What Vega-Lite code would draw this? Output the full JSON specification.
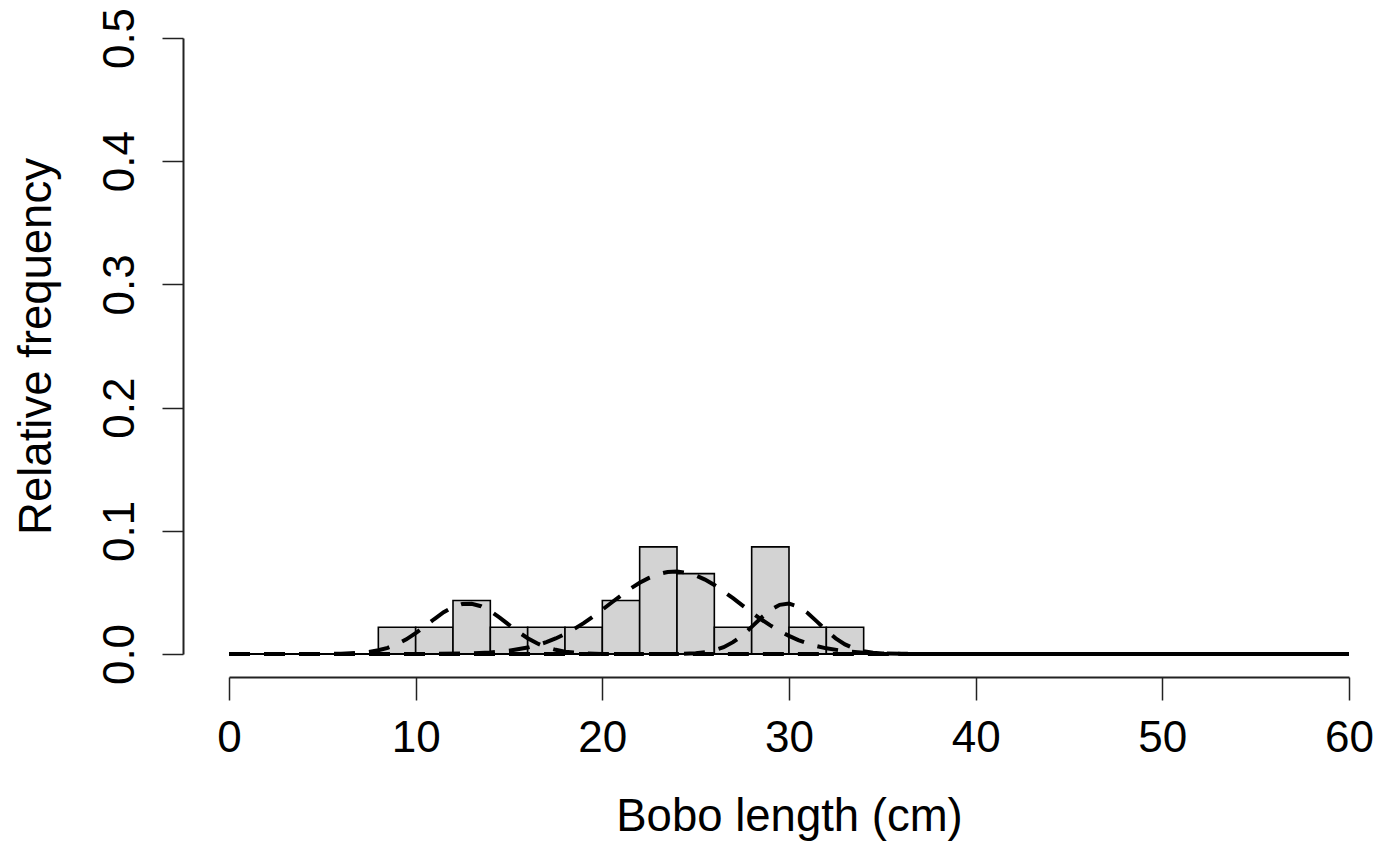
{
  "$schema": "https://vega.github.io/schema/vega-lite/v6.json",
  "width": 1120,
  "height": 616,
  "autosize": {"type": "none"},
  "padding": {"left": 229, "top": 38, "right": 30, "bottom": 192},
  "background": "white",
  "config": {
    "view": {"stroke": null},
    "font": "Liberation Sans",
    "axis": {"labelFont": "Liberation Sans", "titleFont": "Liberation Sans", "labelColor": "#000", "titleColor": "#000", "titleFontWeight": "normal", "grid": false}
  },
  "datasets": {
    "bars": [
      {"length": 8, "end": 10, "freq": 0.02174},
      {"length": 10, "end": 12, "freq": 0.02174},
      {"length": 12, "end": 14, "freq": 0.04348},
      {"length": 14, "end": 16, "freq": 0.02174},
      {"length": 16, "end": 18, "freq": 0.02174},
      {"length": 18, "end": 20, "freq": 0.02174},
      {"length": 20, "end": 22, "freq": 0.04348},
      {"length": 22, "end": 24, "freq": 0.08696},
      {"length": 24, "end": 26, "freq": 0.06522},
      {"length": 26, "end": 28, "freq": 0.02174},
      {"length": 28, "end": 30, "freq": 0.08696},
      {"length": 30, "end": 32, "freq": 0.02174},
      {"length": 32, "end": 34, "freq": 0.02174}
    ],
    "base": [
      {"length": 0, "freq": 0},
      {"length": 60, "freq": 0}
    ],
    "curves": [
      {"comp": "A", "length": 0, "freq": 0}, {"comp": "A", "length": 5, "freq": 0}, {"comp": "A", "length": 6, "freq": 0.0002}, {"comp": "A", "length": 7, "freq": 0.0009}, {"comp": "A", "length": 7.5, "freq": 0.0017}, {"comp": "A", "length": 8, "freq": 0.003}, {"comp": "A", "length": 8.5, "freq": 0.005}, {"comp": "A", "length": 9, "freq": 0.008}, {"comp": "A", "length": 9.5, "freq": 0.0119}, {"comp": "A", "length": 10, "freq": 0.0169}, {"comp": "A", "length": 10.5, "freq": 0.0225}, {"comp": "A", "length": 11, "freq": 0.0284}, {"comp": "A", "length": 11.5, "freq": 0.0339}, {"comp": "A", "length": 12, "freq": 0.0381}, {"comp": "A", "length": 12.5, "freq": 0.0406}, {"comp": "A", "length": 13, "freq": 0.0408}, {"comp": "A", "length": 13.5, "freq": 0.0388}, {"comp": "A", "length": 14, "freq": 0.0348}, {"comp": "A", "length": 14.5, "freq": 0.0295}, {"comp": "A", "length": 15, "freq": 0.0237}, {"comp": "A", "length": 15.5, "freq": 0.0179}, {"comp": "A", "length": 16, "freq": 0.0128}, {"comp": "A", "length": 16.5, "freq": 0.0087}, {"comp": "A", "length": 17, "freq": 0.0055}, {"comp": "A", "length": 17.5, "freq": 0.0034}, {"comp": "A", "length": 18, "freq": 0.0019}, {"comp": "A", "length": 19, "freq": 0.0005}, {"comp": "A", "length": 20, "freq": 0.0001}, {"comp": "A", "length": 21, "freq": 0}, {"comp": "A", "length": 25, "freq": 0}, {"comp": "A", "length": 30, "freq": 0}, {"comp": "A", "length": 35, "freq": 0}, {"comp": "A", "length": 40, "freq": 0}, {"comp": "A", "length": 45, "freq": 0}, {"comp": "A", "length": 50, "freq": 0}, {"comp": "A", "length": 55, "freq": 0}, {"comp": "A", "length": 60, "freq": 0},
      {"comp": "B", "length": 0, "freq": 0}, {"comp": "B", "length": 5, "freq": 0}, {"comp": "B", "length": 10, "freq": 0}, {"comp": "B", "length": 13, "freq": 0.0005}, {"comp": "B", "length": 14, "freq": 0.0012}, {"comp": "B", "length": 15, "freq": 0.0026}, {"comp": "B", "length": 16, "freq": 0.0052}, {"comp": "B", "length": 16.5, "freq": 0.0072}, {"comp": "B", "length": 17, "freq": 0.0096}, {"comp": "B", "length": 17.5, "freq": 0.0126}, {"comp": "B", "length": 18, "freq": 0.0162}, {"comp": "B", "length": 18.5, "freq": 0.0204}, {"comp": "B", "length": 19, "freq": 0.0251}, {"comp": "B", "length": 19.5, "freq": 0.0304}, {"comp": "B", "length": 20, "freq": 0.036}, {"comp": "B", "length": 20.5, "freq": 0.0418}, {"comp": "B", "length": 21, "freq": 0.0475}, {"comp": "B", "length": 21.5, "freq": 0.053}, {"comp": "B", "length": 22, "freq": 0.0578}, {"comp": "B", "length": 22.5, "freq": 0.0618}, {"comp": "B", "length": 23, "freq": 0.0648}, {"comp": "B", "length": 23.5, "freq": 0.0666}, {"comp": "B", "length": 24, "freq": 0.067}, {"comp": "B", "length": 24.5, "freq": 0.066}, {"comp": "B", "length": 25, "freq": 0.0638}, {"comp": "B", "length": 25.5, "freq": 0.0604}, {"comp": "B", "length": 26, "freq": 0.056}, {"comp": "B", "length": 26.5, "freq": 0.0508}, {"comp": "B", "length": 27, "freq": 0.0453}, {"comp": "B", "length": 27.5, "freq": 0.0395}, {"comp": "B", "length": 28, "freq": 0.0337}, {"comp": "B", "length": 28.5, "freq": 0.0282}, {"comp": "B", "length": 29, "freq": 0.0232}, {"comp": "B", "length": 29.5, "freq": 0.0186}, {"comp": "B", "length": 30, "freq": 0.0147}, {"comp": "B", "length": 30.5, "freq": 0.0113}, {"comp": "B", "length": 31, "freq": 0.0086}, {"comp": "B", "length": 31.5, "freq": 0.0063}, {"comp": "B", "length": 32, "freq": 0.0046}, {"comp": "B", "length": 33, "freq": 0.0023}, {"comp": "B", "length": 34, "freq": 0.001}, {"comp": "B", "length": 35, "freq": 0.0004}, {"comp": "B", "length": 36, "freq": 0.0002}, {"comp": "B", "length": 37, "freq": 0}, {"comp": "B", "length": 40, "freq": 0}, {"comp": "B", "length": 45, "freq": 0}, {"comp": "B", "length": 50, "freq": 0}, {"comp": "B", "length": 55, "freq": 0}, {"comp": "B", "length": 60, "freq": 0},
      {"comp": "C", "length": 0, "freq": 0}, {"comp": "C", "length": 5, "freq": 0}, {"comp": "C", "length": 10, "freq": 0}, {"comp": "C", "length": 15, "freq": 0}, {"comp": "C", "length": 20, "freq": 0}, {"comp": "C", "length": 24, "freq": 0}, {"comp": "C", "length": 25, "freq": 0.0006}, {"comp": "C", "length": 25.5, "freq": 0.0014}, {"comp": "C", "length": 26, "freq": 0.003}, {"comp": "C", "length": 26.5, "freq": 0.0055}, {"comp": "C", "length": 27, "freq": 0.0096}, {"comp": "C", "length": 27.5, "freq": 0.0151}, {"comp": "C", "length": 28, "freq": 0.022}, {"comp": "C", "length": 28.5, "freq": 0.0292}, {"comp": "C", "length": 29, "freq": 0.0356}, {"comp": "C", "length": 29.5, "freq": 0.0399}, {"comp": "C", "length": 30, "freq": 0.0409}, {"comp": "C", "length": 30.5, "freq": 0.0385}, {"comp": "C", "length": 31, "freq": 0.0333}, {"comp": "C", "length": 31.5, "freq": 0.0263}, {"comp": "C", "length": 32, "freq": 0.0191}, {"comp": "C", "length": 32.5, "freq": 0.0127}, {"comp": "C", "length": 33, "freq": 0.0078}, {"comp": "C", "length": 33.5, "freq": 0.0044}, {"comp": "C", "length": 34, "freq": 0.0022}, {"comp": "C", "length": 34.5, "freq": 0.0011}, {"comp": "C", "length": 35, "freq": 0.0005}, {"comp": "C", "length": 36, "freq": 0.0001}, {"comp": "C", "length": 37, "freq": 0}, {"comp": "C", "length": 40, "freq": 0}, {"comp": "C", "length": 45, "freq": 0}, {"comp": "C", "length": 50, "freq": 0}, {"comp": "C", "length": 55, "freq": 0}, {"comp": "C", "length": 60, "freq": 0}
    ]
  },
  "encoding": {
    "x": {
      "field": "length", "type": "quantitative",
      "scale": {"domain": [0, 60], "nice": false, "zero": false},
      "axis": {
        "values": [0, 10, 20, 30, 40, 50, 60], "format": "d",
        "offset": 23, "tickSize": 23, "tickColor": "#222", "tickWidth": 1.5,
        "domainColor": "#222", "domainWidth": 2,
        "labelFontSize": 44, "labelBaseline": "alphabetic", "labelPadding": 51,
        "labelFlush": false, "labelOverlap": false,
        "title": "Bobo length (cm)", "titleFontSize": 45.5,
        "titleBaseline": "alphabetic", "titleY": 153, "titleX": 560, "titleAnchor": "middle"
      }
    },
    "y": {
      "field": "freq", "type": "quantitative",
      "scale": {"domain": [0, 0.5], "nice": false},
      "axis": {
        "values": [0, 0.1, 0.2, 0.3, 0.4, 0.5], "format": ".1f",
        "offset": 46, "tickSize": 21, "tickColor": "#222", "tickWidth": 1.5,
        "domainColor": "#222", "domainWidth": 2,
        "labelFontSize": 44, "labelAngle": 270, "labelAlign": "center", "labelBaseline": "alphabetic", "labelPadding": 29,
        "labelFlush": false, "labelOverlap": false,
        "title": "Relative frequency", "titleFontSize": 45.5, "titleAngle": 270,
        "titleBaseline": "alphabetic", "titleAlign": "center", "titleX": -133, "titleY": 308, "titleAnchor": "middle"
      }
    }
  },
  "layer": [
    {
      "data": {"name": "bars"},
      "mark": {"type": "rect", "fill": "#d3d3d3", "stroke": "#000", "strokeWidth": 1.6},
      "encoding": {
        "x2": {"field": "end"},
        "y2": {"datum": 0}
      }
    },
    {
      "data": {"name": "base"},
      "mark": {"type": "line", "color": "#000", "strokeWidth": 2},
      "encoding": {}
    },
    {
      "data": {"name": "curves"},
      "mark": {"type": "line", "color": "#000", "strokeWidth": 4, "strokeDash": [21, 14]},
      "encoding": {
        "detail": {"field": "comp", "type": "nominal"}
      }
    }
  ]
}
